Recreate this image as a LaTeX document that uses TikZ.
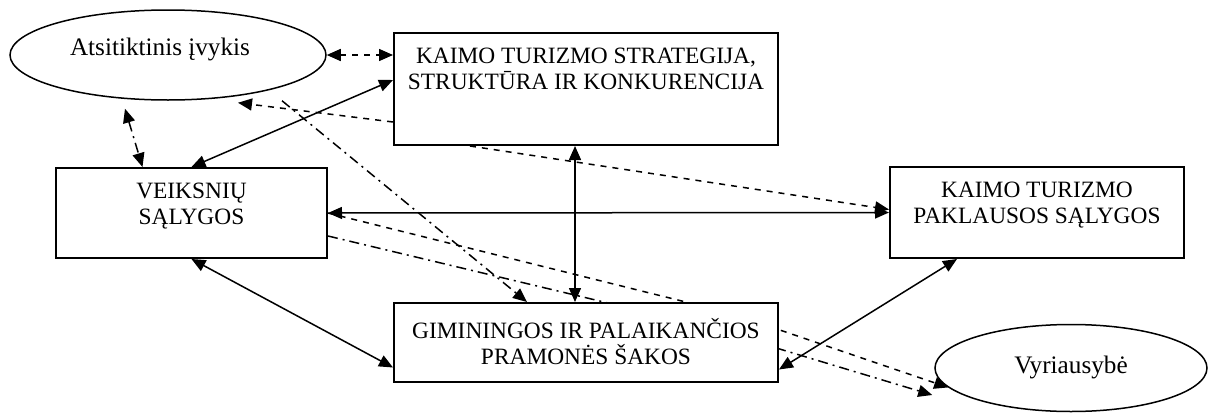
\documentclass[tikz,border=0pt]{standalone}
\usepackage{fontspec}
\setmainfont{Liberation Serif}
\usetikzlibrary{shapes.geometric,arrows.meta,calc,backgrounds}
\tikzstyle{factor}=[rectangle, draw, fill=white, line width=1pt, inner sep=0pt]
\tikzstyle{chance}=[ellipse, draw, fill=white, line width=0.75pt, inner sep=0pt]
\tikzstyle{boxtext}=[anchor=north, align=center, inner sep=0pt, yshift=-7.8pt]
\tikzstyle{ovaltext}=[font=\fontsize{12.6pt}{14pt}\selectfont]
\tikzstyle{twoway}=[draw, line width=0.75pt, {Triangle[length=7pt,width=6pt]}-{Triangle[length=7pt,width=6pt]}]
\tikzstyle{oneway}=[draw, line width=0.75pt, -{Triangle[length=7pt,width=6pt]}]
\tikzstyle{mixed}=[dash pattern=on 5pt off 2.5pt on 1pt off 2.5pt]
\newcommand{\factor}{\node[factor]}
\newcommand{\chance}{\node[chance]}

\begin{document}
\begin{tikzpicture}[x=0.5pt, y=-0.5pt, font=\fontsize{11.7pt}{13pt}\selectfont]
	\useasboundingbox (0,0) rectangle (1212,413);
	%% the four boxes; the text of each box sits at its top
	\factor (strat) at (586,89) [minimum width=192pt, minimum height=56pt,
		label={[boxtext]north:KAIMO TURIZMO STRATEGIJA,\\STRUKTŪRA IR KONKURENCIJA}] {};
	\factor (veik) at (191.5,213) [minimum width=135.5pt, minimum height=45pt,
		label={[boxtext]north:VEIKSNIŲ\\SĄLYGOS}] {};
	\factor (pakl) at (1037,212.5) [minimum width=147pt, minimum height=45.5pt,
		label={[boxtext]north:KAIMO TURIZMO\\PAKLAUSOS SĄLYGOS}] {};
	\factor (gim) at (586,342.5) [minimum width=192pt, minimum height=39.5pt,
		label={[boxtext]north:GIMININGOS IR PALAIKANČIOS\\PRAMONĖS ŠAKOS}] {};
	%% the two outside influences
	\chance (ev) at (168,55) [minimum width=158pt, minimum height=45pt,
		label={[ovaltext, xshift=-4pt, yshift=3pt]center:Atsitiktinis įvykis}] {};
	\chance (vyr) at (1071,368) [minimum width=136pt, minimum height=43.5pt,
		label={[ovaltext, yshift=0.5pt]center:Vyriausybė}] {};
	\begin{scope}[on background layer]
	% lines run behind the boxes, so the bends are hidden in GIMININGOS
	\coordinate (bend1) at (730,313);
	\coordinate (bend2) at (700,325);
	\path
		(ev.east) edge[twoway, dashed] (strat.west |- ev.east)
		($(strat.west)+(0,-9)$) edge[twoway] (veik.north)
		($(strat.west)+(0,33)$) edge[oneway, dashed] ($(ev.south)+(70,2)$)
		($(ev.south)+(-43,8)$) edge[twoway, mixed] ($(veik.north)+(-49,0)$)
		($(ev.south)+(114,0)$) edge[oneway, mixed] ($(gim.north)+(-59,0)$)
		($(strat.south)+(-116,0)$) edge[oneway, dashed] ($(pakl.west)+(0,-3)$)
		(veik.east) edge[twoway] (pakl.west)
		($(strat.south)+(-11,0)$) edge[twoway] ($(gim.north)+(-11,0)$)
		(veik.south) edge[twoway] ($(gim.west)+(0,25)$)
		($(pakl.south)+(-80,0)$) edge[twoway] ($(gim.east)+(0,27)$)
	;
	\draw[oneway, dashed] (veik.east) -- (bend1) -- (vyr.189);
	\draw[oneway, mixed] ($(veik.east)+(0,23)$) -- (bend2) -- ($(vyr.west)+(-2,27)$);
	\end{scope}
\end{tikzpicture}
\end{document}
